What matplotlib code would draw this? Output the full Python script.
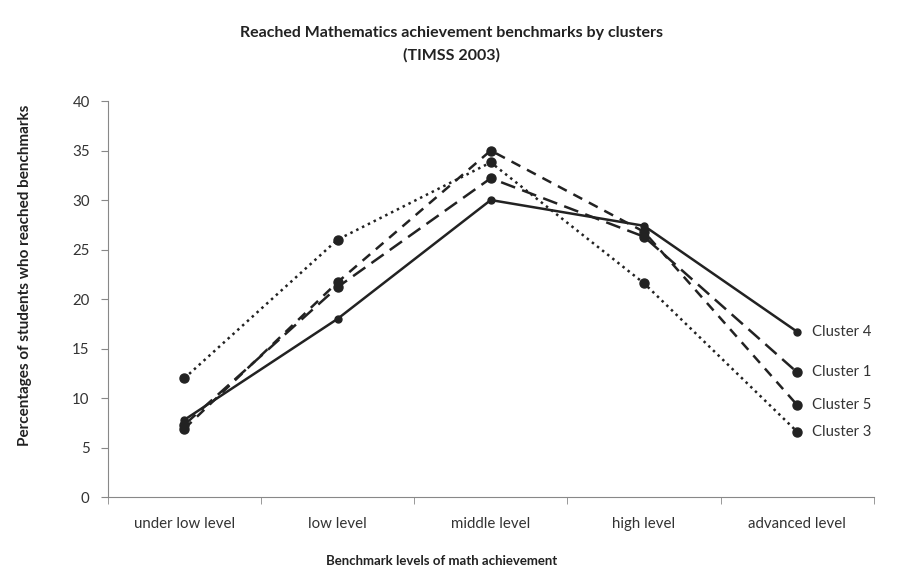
import matplotlib.pyplot as plt

levels = ['under low level', 'low level', 'middle level', 'high level', 'advanced level']
cluster_names = ['Cluster 4', 'Cluster 1', 'Cluster 5', 'Cluster 3']
cluster4 = [7.8, 18.0, 30.0, 27.4, 16.7]
cluster1 = [7.3, 21.2, 32.2, 26.3, 12.6]
cluster5 = [6.9, 21.7, 35.0, 26.8, 9.3]
cluster3 = [12.0, 26.0, 33.8, 21.6, 6.6]

plt.rcParams['font.family'] = ['Lato', 'DejaVu Sans']

fig = plt.figure(figsize=(8.98, 5.74), dpi=100)
ax = fig.add_axes([0.12, 0.134, 0.853, 0.69])

x = list(range(len(levels)))
styles = [
    (cluster4, '-', 5),
    (cluster1, (0, (6, 3)), 6.5),
    (cluster5, (0, (4, 3)), 6.5),
    (cluster3, (0, (1, 1.6)), 6.5),
]
for (vals, ls, ms), name in zip(styles, cluster_names):
    ax.plot(x, vals, color='#222222', linestyle=ls, linewidth=1.8,
            marker='o', markersize=ms)
    ax.text(x[-1] + 0.1, vals[-1], name, va='center', ha='left',
            fontsize=10.7, color='#333333')

ax.set_xlim(-0.5, 4.5)
ax.set_ylim(0, 40)
ax.set_yticks(range(0, 41, 5))
ax.set_xticks(x)
ax.set_xticklabels(levels)
ax.set_xticks([i - 0.5 for i in range(6)], minor=True)
ax.tick_params(axis='x', which='major', length=0, pad=14, labelsize=10.8, labelcolor='#333333')
ax.tick_params(axis='x', which='minor', length=5, color='#888888')
ax.tick_params(axis='y', length=5, color='#888888', labelsize=10.8, labelcolor='#333333', pad=8)

for s in ['top', 'right']:
    ax.spines[s].set_visible(False)
for s in ['left', 'bottom']:
    ax.spines[s].set_color('#888888')

fig.text(0.503, 0.942, 'Reached Mathematics achievement benchmarks by clusters',
         ha='center', va='center', fontsize=11.5, fontweight='bold', color='#222222')
fig.text(0.503, 0.903, '(TIMSS 2003)', ha='center', va='center',
         fontsize=11.5, fontweight='bold', color='#222222')
fig.text(0.028, 0.52, 'Percentages of students who reached benchmarks', rotation=90,
         ha='center', va='center', fontsize=11, fontweight='bold', color='#222222')
fig.text(0.492, 0.022, 'Benchmark levels of math achievement', ha='center', va='center',
         fontsize=9.5, fontweight='bold', color='#222222')

fig.savefig('out.png', dpi=100)
